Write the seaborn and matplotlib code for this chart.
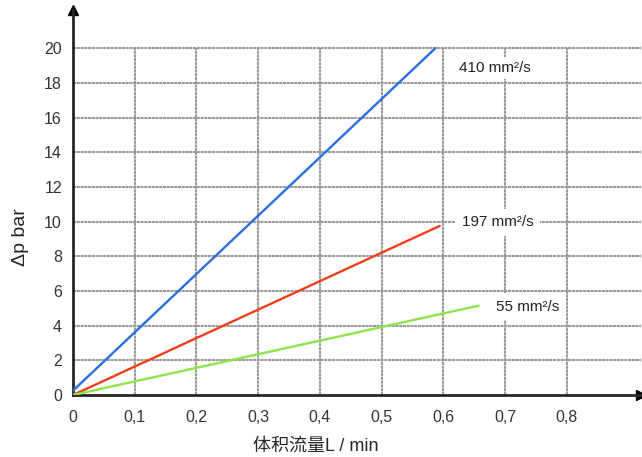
import pandas as pd
import matplotlib
matplotlib.use('Agg')
import matplotlib.pyplot as plt
import seaborn as sns

# 读图数据
viscosity = ['410 mm²/s', '197 mm²/s', '55 mm²/s']
flow_410 = [0.0, 0.587]
dp_410 = [0.25, 20.0]
flow_197 = [0.0, 0.594]
dp_197 = [0.0, 9.75]
flow_55 = [0.0, 0.657]
dp_55 = [0.0, 5.15]
label_pos = [(0.625, 18.85), (0.63, 9.95), (0.685, 5.1)]

x_ticks = [0, 0.1, 0.2, 0.3, 0.4, 0.5, 0.6, 0.7, 0.8]
x_ticklabels = ['0', '0,1', '0,2', '0,3', '0,4', '0,5', '0,6', '0,7', '0,8']
y_ticks = list(range(0, 21, 2))

colors = ['#2a6fe0', '#ee3f1c', '#92e24a']


def main():
    sns.set_style('white')
    plt.rcParams['font.family'] = ['Liberation Sans', 'Noto Sans CJK SC', 'DejaVu Sans']

    df = pd.concat([
        pd.DataFrame({'flow': flow_410, 'dp': dp_410, 'v': viscosity[0]}),
        pd.DataFrame({'flow': flow_197, 'dp': dp_197, 'v': viscosity[1]}),
        pd.DataFrame({'flow': flow_55, 'dp': dp_55, 'v': viscosity[2]}),
    ])

    fig = plt.figure(figsize=(6.42, 4.57), dpi=100)
    ax = fig.add_axes([73 / 642, 62 / 457, 568 / 642, 385 / 457])
    xmax, ymax = 0.92, 22.2
    ax.set_xlim(0, xmax)
    ax.set_ylim(0, ymax)

    grid_kw = dict(colors='#9a9a9a', linewidth=1.5, linestyles=(0, (1.5, 0.3)), zorder=1)
    ax.hlines(y_ticks[1:], 0, xmax, **grid_kw)
    ax.vlines(x_ticks[1:], 0, 20, **grid_kw)

    sns.lineplot(data=df, x='flow', y='dp', hue='v', palette=colors, ax=ax,
                 linewidth=1.7, legend=False, zorder=3, sort=False)

    for txt, (tx, ty), p in zip(viscosity, label_pos, [3, 5, 5]):
        ax.text(tx, ty, txt, fontsize=11, va='center', ha='left', color='#222222',
                bbox=dict(facecolor='white', edgecolor='none', pad=p), zorder=2)

    for s in ['top', 'right']:
        ax.spines[s].set_visible(False)
    ax.spines['left'].set_linewidth(2)
    ax.spines['bottom'].set_linewidth(2)
    ax.plot(0, 1, '^k', markersize=7, transform=ax.get_xaxis_transform(), clip_on=False)
    ax.plot(1, 0, '>k', markersize=7, transform=ax.get_yaxis_transform(), clip_on=False)

    ax.set_xticks(x_ticks)
    ax.set_xticklabels(x_ticklabels)
    ax.set_yticks(y_ticks)
    ax.tick_params(axis='x', direction='inout', length=9, width=1.5, labelsize=11.5,
                   pad=6, colors='black', labelcolor='#333333')
    ax.tick_params(axis='y', length=0, labelsize=11.5, pad=8, labelcolor='#333333')

    ax.set_xlabel('体积流量L / min', fontsize=13)
    ax.set_ylabel('Δp bar', fontsize=14)
    ax.xaxis.set_label_coords((316 - 73) / 568, -0.11)
    ax.yaxis.set_label_coords(-0.078, (395 - 237) / 385)

    plt.savefig('out.png', dpi=100)


if __name__ == '__main__':
    main()
